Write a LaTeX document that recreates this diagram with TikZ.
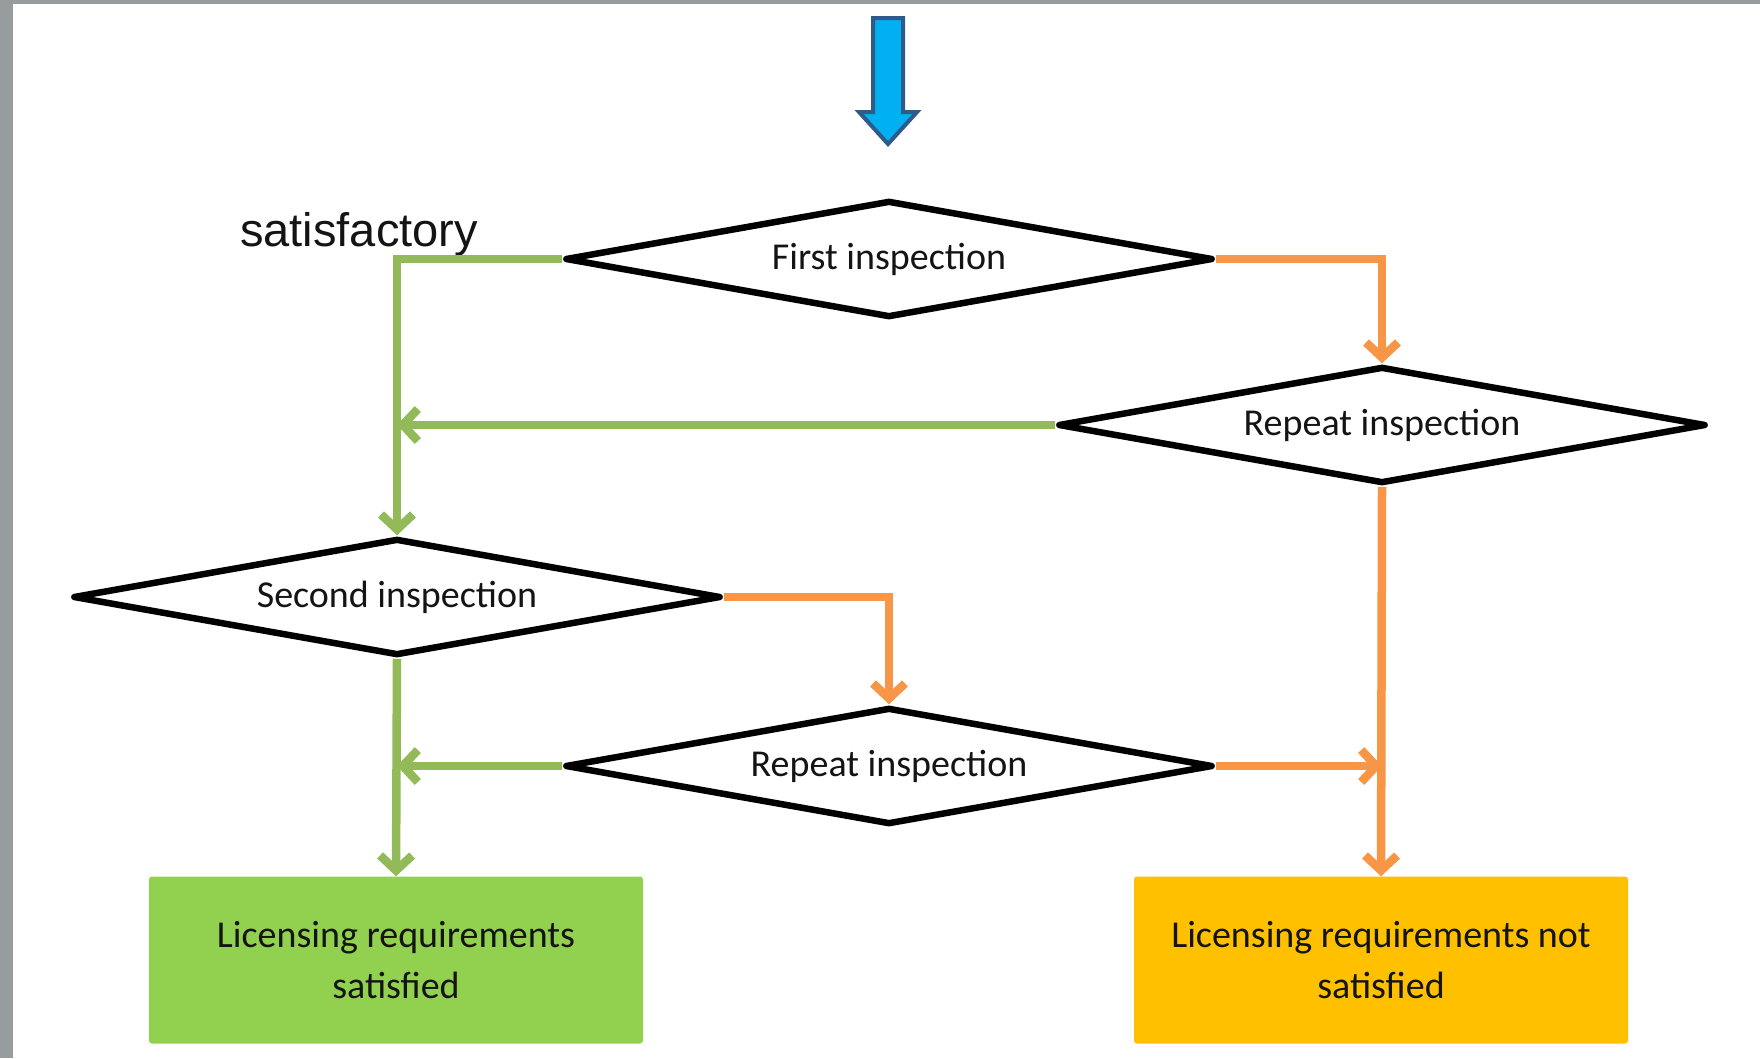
\documentclass[tikz,border=0pt]{standalone}
\usepackage{fontspec}
\setmainfont{Carlito}
\newfontfamily\arialfont{Liberation Sans}
\usetikzlibrary{shapes.geometric,arrows.meta}
\definecolor{gline}{HTML}{92BA58}
\definecolor{oline}{HTML}{F79646}
\definecolor{gfill}{HTML}{92D050}
\definecolor{ofill}{HTML}{FFC000}
\definecolor{bfill}{HTML}{00B0F0}
\definecolor{bdraw}{HTML}{2E5A8C}
\definecolor{frame}{HTML}{979C9F}
\definecolor{txt}{HTML}{141414}
\tikzset{
  dia/.style={diamond, aspect=5.6, draw=black, line width=6.5pt, line join=round, fill=white,
    minimum width=648pt, minimum height=117pt, inner sep=0pt, text=txt,
    font=\fontsize{38}{44}\selectfont},
  resbox/.style={rectangle, rounded corners=3pt, minimum width=494pt, minimum height=167pt,
    align=center, text=txt, font=\fontsize{38}{51}\selectfont},
  garr/.style={draw=gline, line width=8.5pt, -{Straight Barb[length=15pt,width=32pt]}},
  oarr/.style={draw=oline, line width=8.5pt, -{Straight Barb[length=15pt,width=32pt]}},
}
\begin{document}
\begin{tikzpicture}[x=1pt,y=-1pt]
\useasboundingbox (0,0) rectangle (1760,1058);
\fill[frame] (0,0) rectangle (1760,1058);
\fill[white] (13,4) rectangle (1760,1058);
% entry arrow
\draw[draw=bdraw, fill=bfill, line width=4pt, line join=miter]
  (873,18) -- (903,18) -- (903,112) -- (917,112) -- (888,144) -- (859,112) -- (873,112) -- cycle;
% decisions
\node[dia] (fi) at (889,259) {First inspection};
\node[dia] (ri) at (1382,425) {Repeat inspection};
\node[dia] (si) at (397,597) {Second inspection};
\node[dia] (rb) at (889,766) {Repeat inspection};
% results
\node[resbox, fill=gfill] (gbox) at (396,960) {Licensing requirements\\satisfied};
\node[resbox, fill=ofill] (obox) at (1381,960) {Licensing requirements not\\satisfied};
% label
\node[anchor=base west, inner sep=0pt, font=\arialfont\fontsize{47}{50}\selectfont, text=txt] (sat) at (240,246) {satisfactory};
% connectors
\draw[garr] (fi.west) -| (si.north);
\draw[garr] (ri.west) -- (ri.west -| si.north);
\draw[garr] (si.south) -- (gbox.north);
\draw[garr] (rb.west) -- (rb.west -| si.north);
\draw[oarr] (fi.east) -| (ri.north);
\draw[oarr] (ri.south) -- (obox.north);
\draw[oarr] (si.east) -| (rb.north);
\draw[oarr] (rb.east) -- (rb.east -| ri.south);
\end{tikzpicture}
\end{document}
